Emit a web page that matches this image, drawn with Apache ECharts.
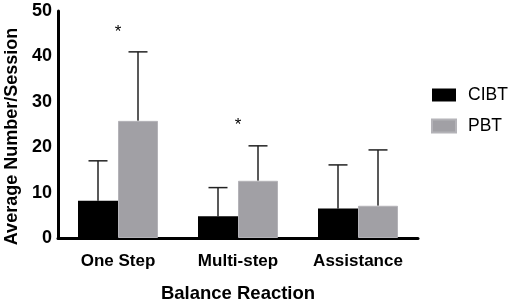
<!DOCTYPE html>
<html><head><meta charset="utf-8">
<script src="https://cdn.jsdelivr.net/npm/echarts@6/dist/echarts.min.js"></script>
<style>html,body{margin:0;padding:0;background:#fff}#c{width:510px;height:303px}</style>
</head><body><div id="c"></div>
<script>
const categories = ['One Step', 'Multi-step', 'Assistance'];
const cibt = [8.2, 4.8, 6.5];
const pbt = [25.8, 12.6, 7.1];
const cibtErr = [17.0, 11.1, 16.1];
const pbtErr = [41.0, 20.3, 19.4];
const sigY = [45.4, 24.8, null];
const yTicks = [0, 10, 20, 30, 40, 50];

const font = 'Liberation Sans, Arial, sans-serif';
const chart = echarts.init(document.getElementById('c'));

function errSeries(vals, tops, side) {
  return {
    type: 'custom',
    z: 1,
    data: vals.map((v, i) => [i, v, tops[i]]),
    renderItem: function (params, api) {
      const i = api.value(0);
      const band = api.size([1, 0])[0];
      const off = side * band / 6;
      const p0 = api.coord([i, api.value(1)]);
      const p1 = api.coord([i, api.value(2)]);
      const x = p0[0] + off;
      const cap = 9.5;
      return {
        type: 'group',
        children: [
          { type: 'line', shape: { x1: x, y1: p0[1], x2: x, y2: p1[1] }, style: { stroke: '#222', lineWidth: 1.5 } },
          { type: 'line', shape: { x1: x - cap, y1: p1[1], x2: x + cap, y2: p1[1] }, style: { stroke: '#222', lineWidth: 1.5 } }
        ]
      };
    }
  };
}

chart.setOption({
  animation: false,
  grid: { left: 58, right: 92, top: 11, bottom: 65, containLabel: false, outerBoundsMode: 'none' },
  legend: {
    data: ['CIBT', 'PBT'],
    orient: 'vertical',
    left: 426, top: 81,
    itemWidth: 24, itemHeight: 13, itemGap: 13,
    icon: 'rect',
    textStyle: { fontFamily: font, fontSize: 17.5, color: '#000', padding: [0, 0, 0, 7] }
  },
  xAxis: {
    type: 'category',
    data: categories,
    axisLine: { lineStyle: { color: '#000', width: 3 } },
    axisTick: { show: false },
    axisLabel: { fontFamily: font, fontSize: 17, fontWeight: 'bold', color: '#000', margin: 15 },
    name: 'Balance Reaction',
    nameLocation: 'middle',
    nameGap: 46,
    nameTextStyle: { fontFamily: font, fontSize: 18.5, fontWeight: 'bold', color: '#000' }
  },
  yAxis: {
    type: 'value',
    min: yTicks[0], max: yTicks[yTicks.length - 1], interval: 10,
    splitLine: { show: false },
    axisLine: { show: true, lineStyle: { color: '#000', width: 3 } },
    axisTick: { show: false },
    axisLabel: { fontFamily: font, fontSize: 18, fontWeight: 'bold', color: '#000', margin: 6 },
    name: 'Average Number/Session',
    nameLocation: 'middle',
    nameGap: 35,
    nameTextStyle: { fontFamily: font, fontSize: 18, fontWeight: 'bold', color: '#000', padding: [0, 24, 0, 0] }
  },
  series: [
    { name: 'CIBT', type: 'bar', data: cibt, barGap: 0, barCategoryGap: '33.33%', itemStyle: { color: '#000' }, z: 2 },
    { name: 'PBT', type: 'bar', data: pbt, itemStyle: { color: '#a1a0a5', borderColor: '#b4b3b8', borderWidth: 1 }, z: 2 },
    errSeries(cibt, cibtErr, -1),
    errSeries(pbt, pbtErr, 1),
    {
      type: 'custom',
      data: sigY.map((v, i) => [i, v]).filter(d => d[1] != null),
      renderItem: function (params, api) {
        const p = api.coord([api.value(0), api.value(1)]);
        return { type: 'text', x: p[0], y: p[1], style: { text: '*', fontFamily: font, fontSize: 17, fill: '#000', align: 'center', verticalAlign: 'middle' } };
      }
    }
  ]
});
</script></body></html>
